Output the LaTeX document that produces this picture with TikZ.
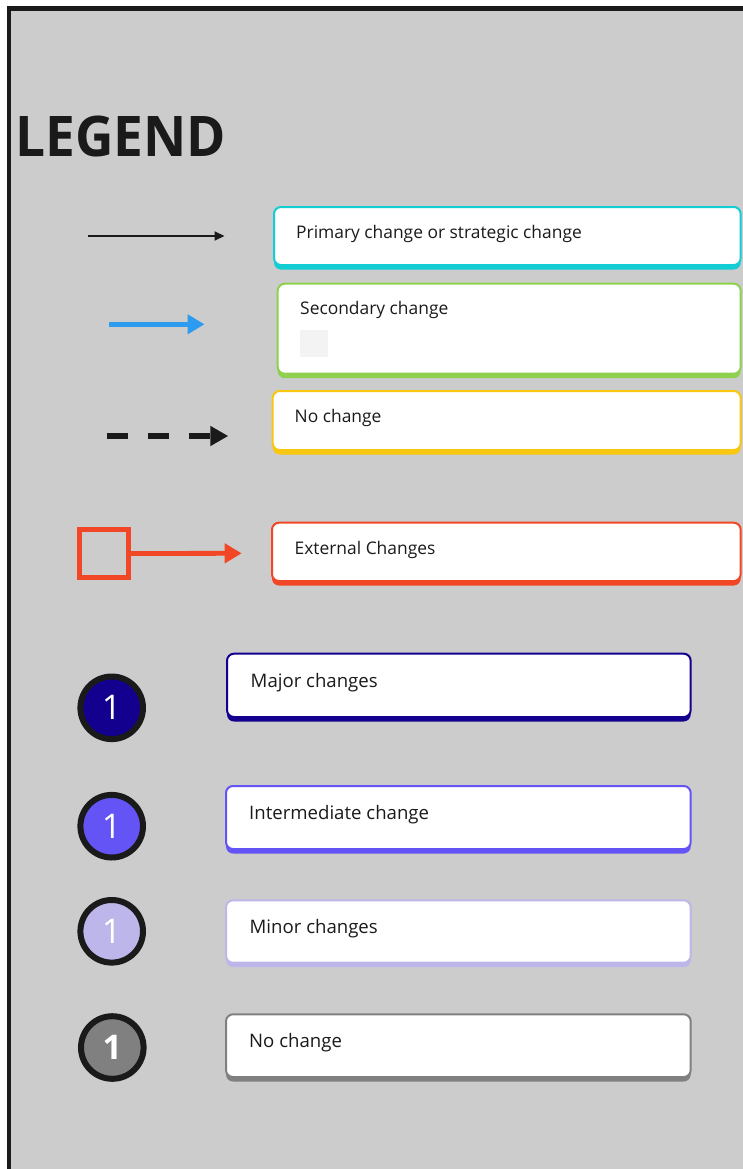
\documentclass[tikz,border=0pt]{standalone}
\usepackage{fontspec}
\setmainfont{Open Sans}
\usetikzlibrary{arrows.meta}

\definecolor{ink}{HTML}{1A1A1A}
\definecolor{panel}{HTML}{CCCCCC}
\definecolor{keycyan}{HTML}{12CDD4}
\definecolor{keygreen}{HTML}{8FD14F}
\definecolor{keyyellow}{HTML}{FAC710}
\definecolor{keyred}{HTML}{F24726}
\definecolor{keynavy}{HTML}{13008F}
\definecolor{keyviolet}{HTML}{6554F5}
\definecolor{keylilac}{HTML}{BDB6EA}
\definecolor{keygray}{HTML}{808080}
\definecolor{keyblue}{HTML}{2D9BF0}
\definecolor{swatch}{HTML}{F3F3F3}

\begin{document}
\begin{tikzpicture}[x=1pt,y=-1pt,
  keybox/.style={rectangle, draw=#1, fill=white, line width=2pt,
    rounded corners=7pt, inner sep=0pt, outer sep=0pt, anchor=north west,
    preaction={fill=#1, transform canvas={yshift=-4.5pt}}},
  lbl/.style={anchor=base west, inner sep=0pt, text=ink,
    font=\fontsize{17.4}{21}\selectfont},
  biglbl/.style={lbl, font=\fontsize{18.6}{22}\selectfont},
  badge/.style={circle, draw=ink, line width=6pt, fill=#1,
    minimum size=62.6pt, inner sep=0pt, text=white,
    font=\fontsize{34}{34}\selectfont},
  thinarrow/.style={draw=ink, line width=2pt,
    -{Triangle[length=10pt,width=9pt]}},
  bluearrow/.style={draw=keyblue, line width=5pt,
    -{Triangle[length=17pt,width=19pt]}},
  dasharrow/.style={draw=ink, line width=6pt, dash pattern=on 21pt off 20pt,
    -{Triangle[length=18pt,width=19pt]}},
  redarrow/.style={draw=keyred, line width=4.8pt,
    -{Triangle[length=17pt,width=19pt]}}
]
\useasboundingbox (0,0) rectangle (742,1169);
\fill[white] (0,0) rectangle (742,1169);

% panel with its dark frame (runs past the right and bottom edges)
\draw[fill=panel, draw=ink, line width=4.6pt] (8.8,8.6) rectangle (770,1200);

% heading
\node[anchor=base west, inner sep=0pt, text=ink, transform shape, xscale=0.95,
      font=\bfseries\fontsize{56}{56}\selectfont] (title) at (15,157) {LEGEND};

% line styles
\coordinate (a1s) at (88,236);     \coordinate (a1e) at (224.5,236);
\draw[thinarrow] (a1s) -- (a1e);
\coordinate (a2s) at (109,324.3);  \coordinate (a2e) at (204.5,324.3);
\draw[bluearrow] (a2s) -- (a2e);
\coordinate (a3s) at (106.7,436);  \coordinate (a3e) at (228.3,436);
\draw[dasharrow] (a3s) -- (a3e);
\node[rectangle, draw=keyred, line width=5pt, minimum size=48.5pt,
      inner sep=0pt, outer sep=0pt] (ext) at (104,553.5) {};
\coordinate (a4e) at (241.7,553.3);
\draw[redarrow] (ext.east) -- (a4e);

% key boxes for the line styles
\node[keybox=keycyan,   minimum width=466.7pt, minimum height=58pt]   (b1) at (274,207) {};
\node[keybox=keygreen,  minimum width=463pt,   minimum height=90pt]   (b2) at (277.7,283.7) {};
\node[keybox=keyyellow, minimum width=468pt,   minimum height=59pt]   (b3) at (272.7,391) {};
\node[keybox=keyred,    minimum width=468.7pt, minimum height=58.3pt] (b4) at (272,522.7) {};

\node[lbl] (t1) at (296,238.5) {Primary change or strategic change};
\node[lbl] (t2) at (300,314.5) {Secondary change};
\node[fill=swatch, minimum width=28pt, minimum height=27pt, inner sep=0pt,
      anchor=north west] (sw) at (300,330) {};
\node[lbl] (t3) at (294.5,422.5) {No change};
\node[lbl] (t4) at (294.5,554.5) {External Changes};

% change levels
\node[badge=keynavy]   (c1) at (111.7,707.8) {1};
\node[badge=keyviolet] (c2) at (111.7,826.2) {1};
\node[badge=keylilac]  (c3) at (111.7,931.3) {1};
\node[badge=keygray, font=\bfseries\fontsize{34}{34}\selectfont] (c4) at (112.3,1047.5) {1};

\node[keybox=keynavy,   minimum width=463.7pt, minimum height=63.3pt] (b5) at (227,653.7) {};
\node[keybox=keyviolet, minimum width=464.7pt, minimum height=63pt]   (b6) at (226,786) {};
\node[keybox=keylilac,  minimum width=464.7pt, minimum height=62.4pt] (b7) at (226,900.3) {};
\node[keybox=keygray,   minimum width=464.7pt, minimum height=62.7pt] (b8) at (226,1014.3) {};

\node[biglbl] (t5) at (250.5,687.8) {Major changes};
\node[biglbl] (t6) at (249,819.8) {Intermediate change};
\node[biglbl] (t7) at (249.5,933.8) {Minor changes};
\node[biglbl] (t8) at (249,1047.8) {No change};
\end{tikzpicture}
\end{document}
